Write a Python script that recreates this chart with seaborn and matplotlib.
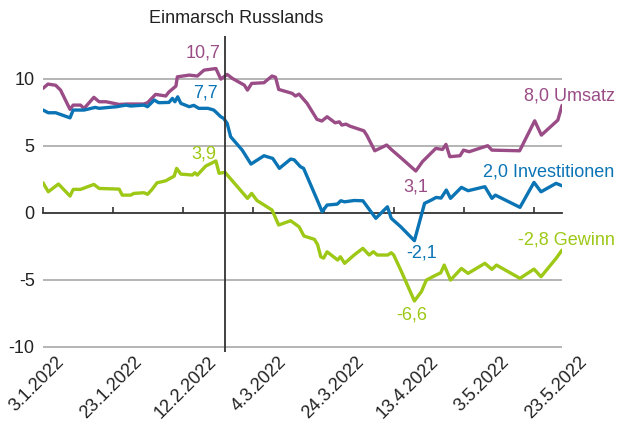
import matplotlib.pyplot as plt
import matplotlib.dates as mdates
import matplotlib.transforms as mtransforms
import numpy as np
import pandas as pd
import seaborn as sns

# Tage seit dem 3.1.2022 und Werte je Reihe
start = pd.Timestamp('2022-01-03')
einmarsch = pd.Timestamp('2022-02-24')
ende = pd.Timestamp('2022-05-31')

umsatz_tage = [0, 1.4, 3.6, 5, 7.7, 8.6, 10.7, 11.7, 14.5, 16, 18, 21.7, 24, 28.7, 29.8,
               32.1, 35, 35.9, 37.9, 38.3, 41.7, 44, 45.9, 49.3, 50.7, 52.5, 54, 57.4,
               58.3, 59.5, 63, 65.3, 66.3, 67.2, 71, 72, 73, 75.3, 78.1, 79.5, 81, 83.3,
               84.5, 85.2, 86.4, 87.5, 91.5, 92.3, 94.6, 98, 99.3, 102, 106.3, 108.2,
               112, 113.9, 114.9, 116, 118.9, 119.9, 121.5, 126.8, 128, 135.9, 140.2,
               142.1, 146.8, 148]
umsatz_werte = [9.27, 9.59, 9.5, 9.14, 7.7, 8.02, 8.02, 7.77, 8.6, 8.27, 8.27, 8.07, 8.1, 8.1, 8.2,
                8.82, 8.7, 9.0, 9.44, 10.13, 10.26, 10.19, 10.63, 10.75, 9.96, 10.31, 10.01, 9.51,
                9.14, 9.64, 9.69, 10.19, 10.1, 9.19, 8.9, 8.7, 8.84, 8.15, 6.96, 6.83, 7.15, 6.7,
                6.77, 6.53, 6.6, 6.45, 6.1, 5.78, 4.61, 5.04, 4.71, 4.1, 3.1, 3.8,
                4.79, 4.71, 5.09, 4.17, 4.24, 4.66, 4.54, 4.99, 4.66, 4.61, 6.85,
                5.78, 6.9, 8.0]

invest_tage = [0, 1.5, 3.6, 7.7, 8.6, 11.7, 14.9, 16, 21, 23.6, 25, 28.8, 29.8, 31.7, 33,
               35.9, 36.9, 37.6, 38.4, 39.3, 41.7, 43, 44.4, 47, 48.7, 50.7, 51.5, 52.5,
               53.5, 56.8, 59.3, 63, 65.5, 67.4, 70.6, 71.6, 73.4, 74.3, 78.2, 79.6, 81,
               83.9, 84.9, 86, 88.7, 91.2, 94.9, 98.2, 99.3, 102, 105.9, 108.8, 110.7,
               112.1, 113.5, 115, 116.2, 119.3, 121.2, 126, 128, 129, 136, 140, 142,
               146.3, 148]
invest_werte = [7.65, 7.45, 7.45, 7.07, 7.65, 7.65, 7.85, 7.78, 7.9, 8.02, 7.95, 8.02, 7.9, 8.4, 8.2,
                8.22, 8.52, 8.27, 8.64, 8.15, 7.9, 8.0, 7.78, 7.78, 7.65, 7.15, 7.03, 6.66,
                5.66, 4.66, 3.62, 4.24, 4.04, 3.3, 3.99, 3.94, 3.42, 3.3, 0.93, 0.06, 0.56,
                0.63, 0.88, 0.8, 0.9, 0.88, -0.43, 0.43, -0.43, -1.06, -2.1, 0.69, 0.93,
                1.13, 1.08, 1.68, 1.06, 1.88, 1.63, 1.93, 1.06, 1.3, 0.39, 2.25, 1.55,
                2.18, 2.0]

gewinn_tage = [0, 1.5, 4.4, 7.7, 8.6, 10.7, 14.5, 16, 21.7, 22.6, 25, 25.9, 28.8, 29.8, 31,
               32.5, 35, 37.4, 38.1, 39.3, 42.6, 43.3, 44, 46.4, 49.3, 50.2, 51.9, 58.3,
               59.5, 61, 65.3, 67.2, 70.6, 73, 74.4, 77.4, 78.3, 79.2, 80, 81, 84, 84.8,
               86, 88.7, 91.2, 93, 94.2, 95.3, 98.3, 99.3, 100, 102, 105.9, 107.9, 109.3,
               112.1, 113.4, 114.4, 116.2, 119.3, 121.2, 126, 128, 129.3, 136, 140, 142,
               146.3, 148]
gewinn_werte = [2.22, 1.55, 2.13, 1.23, 1.73, 1.73, 2.1, 1.8, 1.75, 1.3, 1.3, 1.43, 1.48, 1.36, 1.7,
                2.22, 2.37, 2.72, 3.3, 2.87, 2.8, 2.97, 2.8, 3.47, 3.85, 2.93, 3.0, 1.06,
                1.43, 0.9, 0.19, -0.93, -0.61, -1.06, -1.75, -2.0, -2.4, -3.3, -3.4, -2.93, -3.54, -3.3,
                -3.79, -3.17, -2.67, -3.17, -2.92, -3.17, -3.17, -3.0, -3.17, -4.29, -6.6, -5.9, -5.04,
                -4.66, -4.5, -3.92, -5.04, -4.17, -4.54, -3.79, -4.24, -3.92, -4.91, -4.22, -4.79,
                -3.42, -2.8]

reihen = ['Umsatz', 'Investitionen', 'Gewinn']
farben = {'Umsatz': '#9a4c86', 'Investitionen': '#0a74b5', 'Gewinn': '#9dc816'}

x_beschriftung = ['3.1.2022', '23.1.2022', '12.2.2022', '4.3.2022',
                  '24.3.2022', '13.4.2022', '3.5.2022', '23.5.2022']
y_werte = [-10, -5, 0, 5, 10]
y_beschriftung = ['-10', '-5', '0', '5', '10']

# Beschriftungen: (Text, Reihe, Tag, Wert, Ausrichtung)
marken = [
    ('10,7', 'Umsatz', 45.7, 11.9, 'center'),
    ('7,7', 'Investitionen', 46.3, 8.92, 'center'),
    ('3,9', 'Gewinn', 46.0, 4.37, 'center'),
    ('3,1', 'Umsatz', 106.3, 1.9, 'center'),
    ('-2,1', 'Investitionen', 108.0, -3.02, 'center'),
    ('-6,6', 'Gewinn', 105.2, -7.61, 'center'),
    ('8,0 Umsatz', 'Umsatz', 137.1, 8.69, 'left'),
    ('2,0 Investitionen', 'Investitionen', 125.4, 3.02, 'left'),
    ('-2,8 Gewinn', 'Gewinn', 135.4, -2.05, 'left'),
]


def zu_datum(tage):
    return mdates.date2num(start + pd.to_timedelta(np.asarray(tage, dtype=float), unit='D'))


df = pd.concat([
    pd.DataFrame({'Datum': zu_datum(umsatz_tage), 'Wert': umsatz_werte, 'Reihe': 'Umsatz'}),
    pd.DataFrame({'Datum': zu_datum(invest_tage), 'Wert': invest_werte, 'Reihe': 'Investitionen'}),
    pd.DataFrame({'Datum': zu_datum(gewinn_tage), 'Wert': gewinn_werte, 'Reihe': 'Gewinn'}),
], ignore_index=True)

sns.set_theme(style='white')
plt.rcParams['font.family'] = ['Liberation Sans', 'DejaVu Sans']
plt.rcParams['font.size'] = 13

fig = plt.figure(figsize=(6.19, 4.25), dpi=100)
ax = fig.add_axes([0.0695, 0.172, 0.8385, 0.744])

ymin, ymax = -10.4, 13.2
x0, x1 = mdates.date2num(start), mdates.date2num(ende)

# Gitterlinien
for y in y_werte:
    if y != 0:
        ax.axhline(y, color='#a0a0a0', lw=1.1, zorder=0)

sns.lineplot(data=df, x='Datum', y='Wert', hue='Reihe', hue_order=reihen,
             palette=farben, estimator=None, sort=False, lw=2.4, legend=False, ax=ax)

ax.axvline(mdates.date2num(einmarsch), color='#333333', lw=1.3, zorder=5)
ax.text(mdates.date2num(einmarsch) + 3, 14.5, 'Einmarsch Russlands', ha='center',
        va='center', color='#222222', fontsize=13)

for text, reihe, tag, wert, ha in marken:
    ax.text(zu_datum([tag])[0], wert, text, color=farben[reihe], ha=ha, va='center', fontsize=13)

ax.set_xlim(x0, x1)
ax.set_ylim(ymin, ymax)
for s in ax.spines.values():
    s.set_visible(False)

ax.set_yticks(y_werte)
ax.set_yticklabels(y_beschriftung)
ax.tick_params(axis='y', length=0, pad=6, labelsize=13, labelcolor='#222222')

ax.set_xticks(np.linspace(x0, x1, len(x_beschriftung)))
ax.set_xticklabels(x_beschriftung, rotation=45, ha='center')
ax.tick_params(axis='x', length=0, pad=1, labelsize=13, labelcolor='#222222')
versatz = mtransforms.ScaledTranslation(-6 / 100, 0, fig.dpi_scale_trans)
for lab in ax.get_xticklabels():
    lab.set_transform(lab.get_transform() + versatz)
ax.set_xlabel('')
ax.set_ylabel('')

# Nulllinie mit Strichen alle 20 Tage
null_pos = (0 - ymin) / (ymax - ymin)
sec = ax.secondary_xaxis(null_pos)
sec.set_xticks(zu_datum(np.arange(0, 141, 20)))
sec.set_xticklabels([])
sec.tick_params(direction='in', length=4, width=1.2, color='#333333')
sec.spines['bottom'].set_color('#333333')
sec.spines['bottom'].set_linewidth(1.3)

fig.savefig('out.png', dpi=100)
